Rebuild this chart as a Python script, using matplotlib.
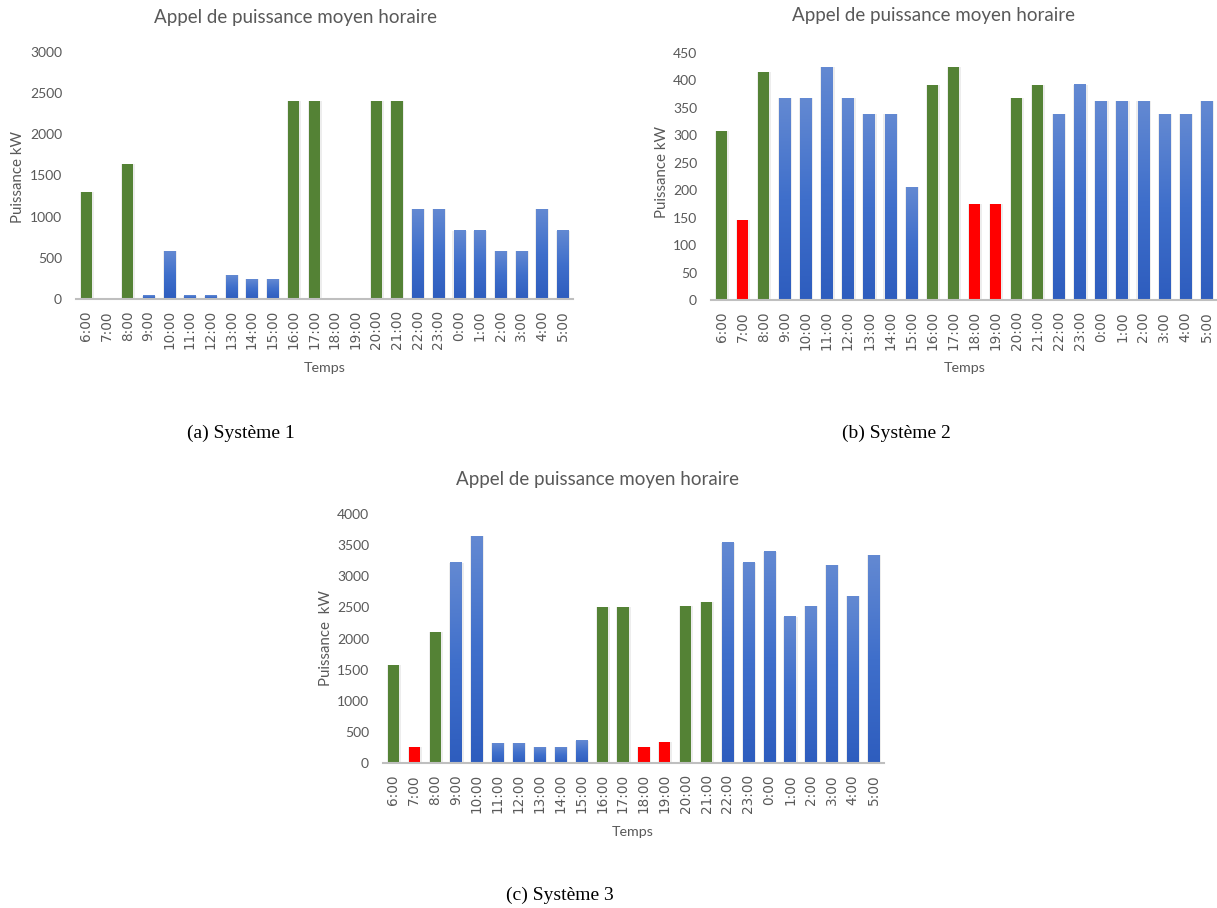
import matplotlib
matplotlib.use('Agg')
import matplotlib.pyplot as plt
import numpy as np
from matplotlib.colors import LinearSegmentedColormap

# Hours on the x axis (same for the three systems)
hours = ['6:00', '7:00', '8:00', '9:00', '10:00', '11:00', '12:00', '13:00',
         '14:00', '15:00', '16:00', '17:00', '18:00', '19:00', '20:00', '21:00',
         '22:00', '23:00', '0:00', '1:00', '2:00', '3:00', '4:00', '5:00']

# Average hourly power demand (kW)
power_s1 = [1300, 0, 1640, 40, 580, 40, 40, 290, 240, 240, 2400, 2400,
            0, 0, 2400, 2400, 1090, 1090, 830, 830, 580, 580, 1090, 830]
power_s2 = [308, 145, 415, 368, 368, 424, 368, 338, 338, 205, 392, 424,
            175, 175, 368, 392, 338, 392, 362, 362, 362, 338, 338, 362]
power_s3 = [1580, 250, 2110, 3220, 3640, 320, 320, 250, 250, 360, 2500, 2500,
            250, 340, 2520, 2580, 3540, 3220, 3390, 2350, 2520, 3180, 2680, 3340]

# bar category per hour: 'g' green, 'r' red, 'b' blue
kind_s1 = list('gbgbbbbbbbggbbggbbbbbbbb')
kind_s2 = list('grgbbbbbbbggrrggbbbbbbbb')
kind_s3 = list('grgbbbbbbbggrrggbbbbbbbb')

GREEN = '#548235'
RED = '#FF0000'
GREY = '#595959'
blue_cmap = LinearSegmentedColormap.from_list('blue', ['#2E5DBE', '#3F6FCB', '#6389D2'])

W, H = 1217, 908
fig = plt.figure(figsize=(W / 100, H / 100), dpi=100)
plt.rcParams['font.family'] = ['Lato', 'DejaVu Sans']


def px_axes(x0, y0, x1, y1):
    return fig.add_axes([x0 / W, 1 - y1 / H, (x1 - x0) / W, (y1 - y0) / H])


def draw_panel(ax, values, kinds, ymax, step):
    x = np.arange(len(hours))
    width = 0.54
    grad = np.linspace(0, 1, 100).reshape(-1, 1)
    for xi, v, k in zip(x, values, kinds):
        if v <= 0:
            continue
        # soft shadow round the bar
        ax.bar(xi + 0.02, v, width + 0.14, color='#000000', alpha=0.07, zorder=1)
        if k == 'b':
            bar = ax.bar(xi, v, width, color='none', zorder=2)[0]
            ax.imshow(grad, cmap=blue_cmap, aspect='auto', origin='lower',
                      extent=[bar.get_x(), bar.get_x() + bar.get_width(), 0, v],
                      zorder=2)
        else:
            ax.bar(xi, v, width, color=GREEN if k == 'g' else RED, zorder=2)
    ax.set_xlim(-0.5, len(hours) - 0.5)
    ax.set_ylim(0, ymax)
    ax.set_yticks(np.arange(0, ymax + 1, step))
    ax.set_xticks(x)
    ax.set_xticklabels(hours, rotation=90, fontsize=9.8,
                       family=['DejaVu Sans'])
    for s in ['top', 'right', 'left']:
        ax.spines[s].set_visible(False)
    ax.spines['bottom'].set_color('#BFBFBF')
    ax.spines['bottom'].set_linewidth(1.5)
    ax.spines['bottom'].set_zorder(3)
    ax.tick_params(length=0, colors=GREY)
    ax.tick_params(axis='y', pad=10, labelsize=10)
    ax.tick_params(axis='x', pad=8)


ax1 = px_axes(76, 52, 573, 299)
draw_panel(ax1, power_s1, kind_s1, 3000, 500)
ax2 = px_axes(711, 53, 1217, 300)
draw_panel(ax2, power_s2, kind_s2, 450, 50)
ax3 = px_axes(383, 514, 884, 763)
draw_panel(ax3, power_s3, kind_s3, 4000, 500)

title = 'Appel de puissance moyen horaire'
for cx, cy in [(296, 18), (934, 16), (598, 479)]:
    fig.text(cx / W, 1 - cy / H, title, ha='center', va='center',
             fontsize=13.5, color=GREY)

for cx, cy, lab in [(18, 177, 'Puissance kW'), (662, 172, 'Puissance kW'),
                    (326, 638, 'Puissance  kW')]:
    fig.text(cx / W, 1 - cy / H, lab, ha='center', va='center',
             rotation=90, fontsize=10.8, color=GREY)

for cx, cy in [(325, 368), (965, 368), (633, 832)]:
    fig.text(cx / W, 1 - cy / H, 'Temps', ha='center', va='center',
             fontsize=10.3, color=GREY)

for cx, cy, lab in [(241, 433, '(a) Système 1'), (896, 433, '(b) Système 2'),
                    (560, 895, '(c) Système 3')]:
    fig.text(cx / W, 1 - cy / H, lab, ha='center', va='center',
             fontsize=14, color='black', family=['Liberation Serif', 'DejaVu Serif'])

fig.savefig('out.png', dpi=100)
